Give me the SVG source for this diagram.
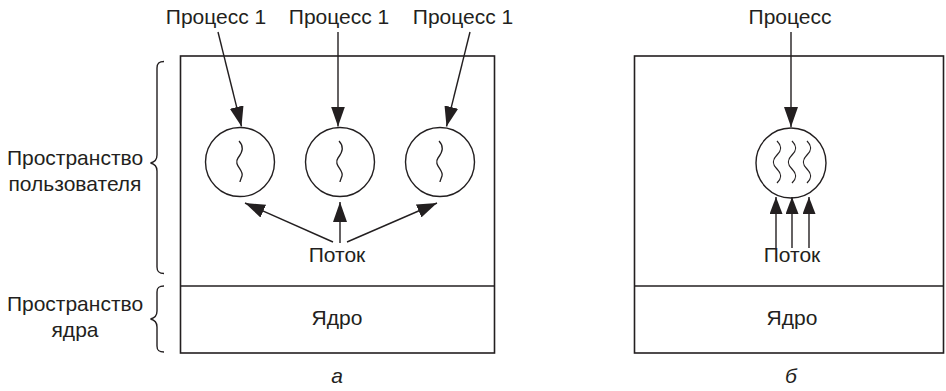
<svg xmlns="http://www.w3.org/2000/svg" width="946" height="391" viewBox="0 0 946 391">
<defs>
<style>
text{font-family:"Liberation Sans",Arial,sans-serif;font-size:21px;fill:#231f20;text-anchor:middle}
.it{font-style:italic}
.box{fill:none;stroke:#231f20;stroke-width:1.6}
.c{fill:#fff;stroke:#231f20;stroke-width:1.4}
.sq{fill:none;stroke:#231f20;stroke-width:1.3}
.ln{fill:none;stroke:#231f20;stroke-width:1.4}
.br{fill:none;stroke:#231f20;stroke-width:1.4}
</style>
<marker id="ah" viewBox="0 0 20 14" refX="20" refY="7" markerWidth="20" markerHeight="14" markerUnits="userSpaceOnUse" orient="auto">
<path d="M0,0 L20,7 L0,14 Z" fill="#231f20"/>
</marker>
<marker id="ah2" viewBox="0 0 17 13" refX="17" refY="6.5" markerWidth="17" markerHeight="13" markerUnits="userSpaceOnUse" orient="auto">
<path d="M0,0 L17,6.5 L0,13 Z" fill="#231f20"/>
</marker>
</defs>
<rect width="946" height="391" fill="#fff"/>

<g id="labels-left">
<text x="75" y="165">Пространство</text>
<text x="75" y="191">пользователя</text>
<text x="75" y="311">Пространство</text>
<text x="75" y="337">ядра</text>
<path class="br" d="M164,61.5 C159,61.5 157,63 157,68 L157,155 C157,160 155,162 150.5,163 C155,164 157,166 157,171 L157,267 C157,272 159,273.5 164,273.5"/>
<path class="br" d="M164,286 C159,286 157,287.5 157,292 L157,311 C157,316 155,318 150.5,319 C155,320 157,322 157,327 L157,346 C157,350.5 159,352 164,352"/>
</g>

<g id="diagram-a">
<rect class="box" x="180.5" y="56" width="314" height="297"/>
<line class="box" x1="180.5" y1="286" x2="494.5" y2="286"/>
<text x="337" y="325">Ядро</text>
<text class="it" x="337" y="383">а</text>
</g>

<g id="proc-a1">
<text x="216" y="24">Процесс 1</text>
<circle class="c" cx="240" cy="162" r="34.5"/>
<path class="sq" d="M239,141 C245,147 242,153 238,158 C233,165 244,170 242,176 C241,179 240,181 240,182"/>
</g>
<g id="proc-a2">
<text x="339" y="24">Процесс 1</text>
<circle class="c" cx="340" cy="162" r="34.5"/>
<path class="sq" d="M339,141 C345,147 342,153 338,158 C333,165 344,170 342,176 C341,179 340,181 340,182"/>
</g>
<g id="proc-a3">
<text x="463" y="24">Процесс 1</text>
<circle class="c" cx="440" cy="162" r="34.5"/>
<path class="sq" d="M439,141 C445,147 442,153 438,158 C433,165 444,170 442,176 C441,179 440,181 440,182"/>
</g>
<g id="thread-a">
<text x="337" y="262">Поток</text>
</g>

<g id="diagram-b">
<rect class="box" x="634.5" y="56" width="309" height="297"/>
<line class="box" x1="634.5" y1="286" x2="943.5" y2="286"/>
<text x="792" y="325">Ядро</text>
<text class="it" x="791" y="383">б</text>
</g>
<g id="proc-b">
<text x="790" y="24">Процесс</text>
<circle class="c" cx="791" cy="163" r="35"/>
<path class="sq" d="M777,141 C782,146 782,150 777,155 C772,160 772,164 777,169 C782,174 782,178 777,183"/>
<path class="sq" d="M792,141 C797,146 797,150 792,155 C787,160 787,164 792,169 C797,174 797,178 792,183"/>
<path class="sq" d="M807,141 C812,146 812,150 807,155 C802,160 802,164 807,169 C812,174 812,178 807,183"/>
</g>
<g id="thread-b">
<text x="792" y="262">Поток</text>
</g>

<g id="connectors">
<line class="ln" x1="218" y1="32" x2="241.5" y2="126.5" marker-end="url(#ah)"/>
<line class="ln" x1="338" y1="32" x2="338" y2="126.5" marker-end="url(#ah)"/>
<line class="ln" x1="470" y1="32" x2="446.5" y2="126.5" marker-end="url(#ah)"/>
<line class="ln" x1="791" y1="32" x2="791" y2="127" marker-end="url(#ah)"/>
<line class="ln" x1="333" y1="242" x2="245" y2="203" marker-end="url(#ah)"/>
<line class="ln" x1="340" y1="243" x2="340" y2="202" marker-end="url(#ah)"/>
<line class="ln" x1="347" y1="242" x2="437" y2="203" marker-end="url(#ah)"/>
<line class="ln" x1="776" y1="248" x2="776" y2="197" marker-end="url(#ah2)"/>
<line class="ln" x1="792" y1="248" x2="792" y2="197" marker-end="url(#ah2)"/>
<line class="ln" x1="809" y1="248" x2="809" y2="197" marker-end="url(#ah2)"/>
</g>
</svg>
